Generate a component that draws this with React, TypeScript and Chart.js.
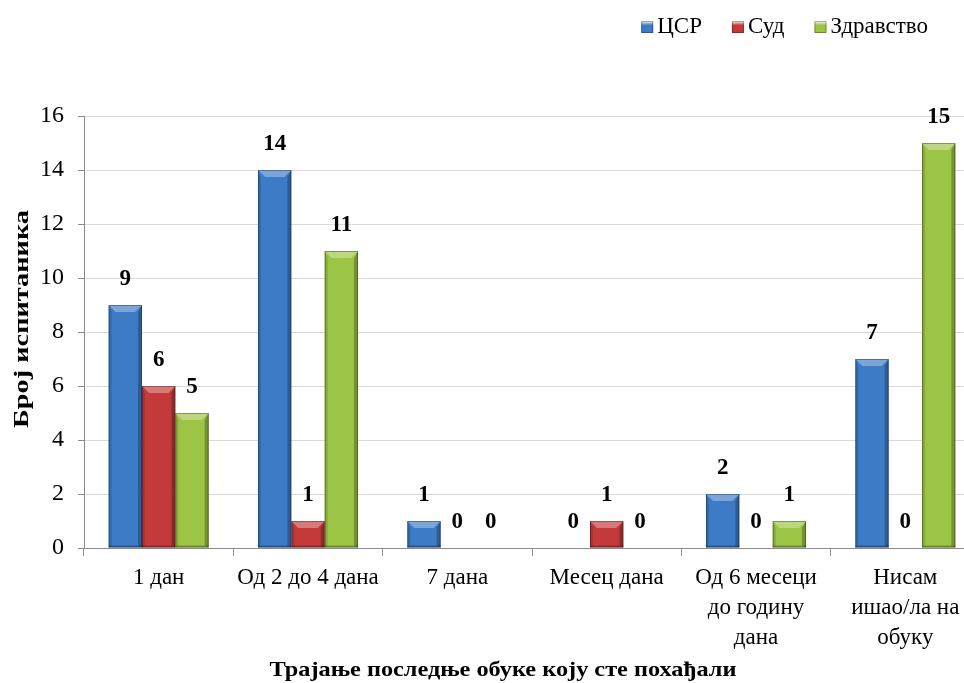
import React, { useEffect, useRef } from "react";
import { Chart, registerables } from "chart.js";

Chart.register(...registerables);

const categories: string[][] = [
  ["1 дан"],
  ["Од 2 до 4 дана"],
  ["7 дана"],
  ["Месец дана"],
  ["Од 6 месеци", "до годину", "дана"],
  ["Нисам", "ишао/ла на", "обуку"],
];
const seriesNames = ["ЦСР", "Суд", "Здравство"];
const csrValues = [9, 14, 1, 0, 2, 7];
const sudValues = [6, 1, 0, 1, 0, 0];
const zdravstvoValues = [5, 11, 0, 0, 1, 15];
const yMin = 0;
const yMax = 16;
const yStep = 2;
const xTitle = "Трајање последње обуке коју сте похађали";
const yTitle = "Број испитаника";

const seriesColors = ["#3D7BC7", "#C43A3A", "#9CC545"];

const SERIF = '"Liberation Serif", "Times New Roman", serif';

const bevelPlugin = {
  id: "bevel",
  afterDatasetDraw(chart: any, args: any) {
    const ctx = chart.ctx;
    const meta = args.meta;
    ctx.save();
    meta.data.forEach((el: any) => {
      const p = el.getProps(["x", "y", "base", "width"], true);
      const left = p.x - p.width / 2;
      const right = p.x + p.width / 2;
      const top = Math.min(p.y, p.base);
      const bottom = Math.max(p.y, p.base);
      const h = bottom - top;
      if (h < 0.5) return;
      const b = Math.min(7, h / 2, p.width / 4);
      ctx.fillStyle = "rgba(0,0,0,0.14)";
      ctx.beginPath();
      ctx.moveTo(left, top);
      ctx.lineTo(left + 3, top + b);
      ctx.lineTo(left + 3, bottom - 2);
      ctx.lineTo(left, bottom);
      ctx.closePath();
      ctx.fill();
      ctx.fillStyle = "rgba(0,0,0,0.26)";
      ctx.beginPath();
      ctx.moveTo(right, top);
      ctx.lineTo(right - 4, top + b);
      ctx.lineTo(right - 4, bottom - 2);
      ctx.lineTo(right, bottom);
      ctx.closePath();
      ctx.fill();
      ctx.fillStyle = "rgba(0,0,0,0.22)";
      ctx.fillRect(left, bottom - 2, p.width, 2);
      ctx.fillStyle = "rgba(255,255,255,0.32)";
      ctx.beginPath();
      ctx.moveTo(left, top);
      ctx.lineTo(right, top);
      ctx.lineTo(right - b, top + b);
      ctx.lineTo(left + b, top + b);
      ctx.closePath();
      ctx.fill();
      ctx.strokeStyle = "rgba(0,0,0,0.3)";
      ctx.lineWidth = 1;
      ctx.strokeRect(left + 0.5, top + 0.5, p.width - 1, h - 1);
    });
    ctx.restore();
  },
};

const labelsPlugin = {
  id: "valueLabels",
  afterDatasetsDraw(chart: any) {
    const ctx = chart.ctx;
    ctx.save();
    ctx.font = `bold 23px ${SERIF}`;
    ctx.fillStyle = "#000";
    ctx.textAlign = "center";
    ctx.textBaseline = "middle";
    chart.data.datasets.forEach((ds: any, i: number) => {
      const meta = chart.getDatasetMeta(i);
      meta.data.forEach((el: any, j: number) => {
        const p = el.getProps(["x", "y"], true);
        ctx.fillText(String(ds.data[j]), p.x, p.y - 26);
      });
    });
    ctx.restore();
  },
};

function drawStretched(ctx: any, text: string, cx: number, cy: number, rot: number, targetLen: number) {
  ctx.save();
  ctx.translate(cx, cy);
  ctx.rotate(rot);
  const w = ctx.measureText(text).width;
  ctx.scale(targetLen / w, 1);
  ctx.fillText(text, 0, 0);
  ctx.restore();
}

const decorPlugin = {
  id: "decor",
  afterDraw(chart: any) {
    const ctx = chart.ctx;
    ctx.save();
    ctx.font = `bold 22px ${SERIF}`;
    ctx.fillStyle = "#000";
    ctx.textAlign = "center";
    ctx.textBaseline = "middle";
    drawStretched(ctx, xTitle, 503, 670, 0, 467);
    drawStretched(ctx, yTitle, 22, 319, -Math.PI / 2, 218);
    // legend
    ctx.font = `23px ${SERIF}`;
    ctx.textAlign = "left";
    const box = 12;
    const gapBoxText = 4;
    const gapItems = 30;
    const widths = seriesNames.map((n) => ctx.measureText(n).width);
    const total =
      widths.reduce((a, w) => a + box + gapBoxText + w, 0) + gapItems * (seriesNames.length - 1);
    let x = 928 - total;
    const cy = 27;
    seriesNames.forEach((n, i) => {
      const g = ctx.createLinearGradient(0, cy - box / 2, 0, cy + box / 2);
      g.addColorStop(0, "#ffffff");
      g.addColorStop(0.35, seriesColors[i]);
      g.addColorStop(1, seriesColors[i]);
      ctx.fillStyle = g;
      ctx.fillRect(x, cy - box / 2, box, box);
      ctx.strokeStyle = "rgba(0,0,0,0.3)";
      ctx.strokeRect(x + 0.5, cy - box / 2 + 0.5, box - 1, box - 1);
      ctx.fillStyle = "#000";
      ctx.fillText(n, x + box + gapBoxText, cy);
      x += box + gapBoxText + widths[i] + gapItems;
    });
    ctx.restore();
  },
};

export default function App() {
  const ref = useRef<HTMLCanvasElement | null>(null);
  useEffect(() => {
    if (!ref.current) return;
    const chart = new Chart(ref.current, {
      type: "bar",
      data: {
        labels: categories,
        datasets: [
          { label: seriesNames[0], data: csrValues, backgroundColor: seriesColors[0] },
          { label: seriesNames[1], data: sudValues, backgroundColor: seriesColors[1] },
          { label: seriesNames[2], data: zdravstvoValues, backgroundColor: seriesColors[2] },
        ],
      },
      options: {
        responsive: false,
        animation: false,
        devicePixelRatio: 1,
        layout: { padding: { top: 116, right: 20, left: 0, bottom: 0 } },
        datasets: { bar: { barPercentage: 1, categoryPercentage: 0.67 } },
        plugins: { legend: { display: false }, tooltip: { enabled: false } },
        scales: {
          x: {
            afterFit: (s: any) => {
              s.height = 135;
            },
            grid: {
              display: true,
              drawOnChartArea: false,
              drawTicks: true,
              tickLength: 8,
              color: "#8C8C8C",
              offset: true,
            },
            border: { color: "#8C8C8C" },
            ticks: {
              color: "#000",
              font: { family: SERIF, size: 23, lineHeight: 1.3 },
              maxRotation: 0,
              minRotation: 0,
              autoSkip: false,
              padding: 7,
            },
          },
          y: {
            min: yMin,
            max: yMax,
            afterFit: (s: any) => {
              s.width = 84;
            },
            grid: { color: "#D9D9D9", tickLength: 6, tickColor: "#8C8C8C" },
            border: { color: "#8C8C8C" },
            ticks: {
              stepSize: yStep,
              color: "#000",
              font: { family: SERIF, size: 24 },
              padding: 14,
            },
          },
        },
      },
      plugins: [bevelPlugin, labelsPlugin, decorPlugin],
    } as any);
    return () => chart.destroy();
  }, []);
  return (
    <div
      style={{
        position: "absolute",
        left: 0,
        top: 0,
        width: 964,
        height: 683,
        overflow: "hidden",
        background: "#fff",
      }}
    >
      <canvas ref={ref} width={1000} height={683} style={{ width: 1000, height: 683, display: "block" }} />
    </div>
  );
}
